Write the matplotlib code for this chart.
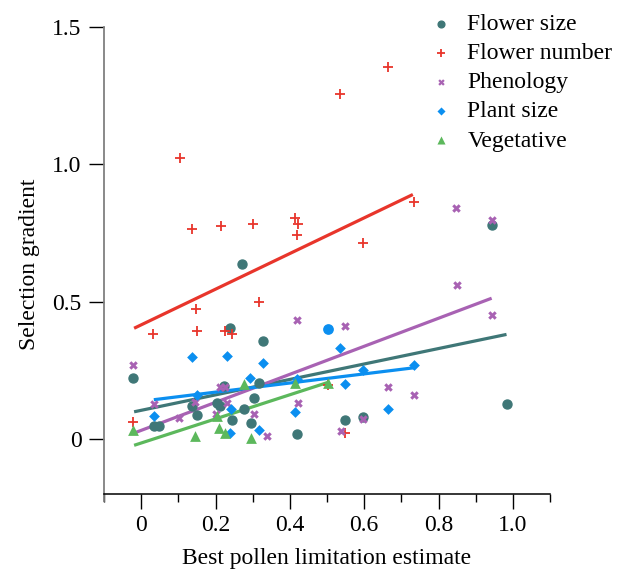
import numpy as np
import matplotlib
matplotlib.use("Agg")
import matplotlib.pyplot as plt
from matplotlib.ticker import MultipleLocator

plt.rcParams['font.family'] = ['Liberation Serif', 'DejaVu Serif']

# --- data ---
size_x = [-0.023, 0.034, 0.049, 0.138, 0.150, 0.203, 0.211, 0.224, 0.239, 0.244, 0.270,
          0.276, 0.296, 0.303, 0.317, 0.327, 0.420, 0.549, 0.598, 0.943, 0.983]
size_y = [0.223, 0.049, 0.049, 0.120, 0.089, 0.130, 0.120, 0.193, 0.403, 0.069, 0.636,
          0.108, 0.060, 0.151, 0.203, 0.358, 0.018, 0.069, 0.081, 0.781, 0.128]

number_x = [-0.021, 0.032, 0.104, 0.138, 0.147, 0.150, 0.214, 0.225, 0.244, 0.302,
            0.318, 0.414, 0.418, 0.422, 0.502, 0.536, 0.549, 0.598, 0.663, 0.735]
number_y = [0.061, 0.382, 1.024, 0.764, 0.473, 0.392, 0.777, 0.392, 0.382, 0.782,
            0.501, 0.804, 0.742, 0.782, 0.197, 1.255, 0.022, 0.713, 1.355, 0.864]

pheno_x = [-0.021, 0.034, 0.103, 0.146, 0.202, 0.213, 0.226, 0.232, 0.303, 0.338, 0.418,
           0.422, 0.537, 0.549, 0.598, 0.663, 0.733, 0.848, 0.849, 0.943, 0.944]
pheno_y = [0.271, 0.129, 0.078, 0.135, 0.090, 0.191, 0.191, 0.130, 0.090, 0.012, 0.432,
           0.130, 0.031, 0.411, 0.072, 0.191, 0.161, 0.842, 0.562, 0.796, 0.451]

plant_x = [0.034, 0.138, 0.151, 0.230, 0.239, 0.243, 0.294, 0.317, 0.328, 0.415, 0.418,
           0.536, 0.549, 0.598, 0.663, 0.734]
plant_y = [0.083, 0.300, 0.161, 0.303, 0.022, 0.111, 0.224, 0.033, 0.276, 0.100, 0.220,
           0.331, 0.200, 0.251, 0.109, 0.270]
plant_circle_x = [0.503]
plant_circle_y = [0.401]

veg_x = [-0.021, 0.146, 0.203, 0.210, 0.226, 0.278, 0.295, 0.414, 0.503]
veg_y = [0.033, 0.012, 0.084, 0.041, 0.023, 0.200, 0.005, 0.203, 0.203]

# fitted lines: (x start, x end, intercept, slope)
fit_size = (-0.019, 0.983, 0.105, 0.281)
fit_number = (-0.019, 0.731, 0.416, 0.649)
fit_pheno = (-0.019, 0.943, 0.032, 0.510)
fit_plant = (0.034, 0.734, 0.138, 0.166)
fit_veg = (-0.019, 0.503, -0.014, 0.439)

c_size = '#3f7777'
c_number = '#e8352b'
c_pheno = '#a862b3'
c_plant = '#0b8ff0'
c_veg = '#5cb85c'

fig = plt.figure(figsize=(6.22, 5.72), dpi=100)
ax = fig.add_axes([104 / 622, 1 - 501 / 572, 446 / 622, 474 / 572])

ax.scatter(size_x, size_y, s=42, marker='o', color=c_size, label='Flower size', zorder=3)
ax.scatter(number_x, number_y, s=55, marker='+', color=c_number, linewidths=1.3,
           label='Flower number', zorder=3)
ax.scatter(pheno_x, pheno_y, s=38, marker='X', color=c_pheno, linewidths=0,
           label='Phenology', zorder=3)
ax.scatter(plant_x, plant_y, s=30, marker='D', color=c_plant, linewidths=0,
           label='Plant size', zorder=3)
ax.scatter(plant_circle_x, plant_circle_y, s=45, marker='o', color=c_plant, zorder=3)
ax.scatter(veg_x, veg_y, s=60, marker='^', color=c_veg, linewidths=0,
           label='Vegetative', zorder=3)

for fit, col in [(fit_size, c_size), (fit_number, c_number), (fit_pheno, c_pheno),
                 (fit_plant, c_plant), (fit_veg, c_veg)]:
    x0, x1, b, m = fit
    xs = np.array([x0, x1])
    ax.plot(xs, b + m * xs, color=col, lw=2.3, solid_capstyle='butt', zorder=2)

ax.set_xlim(-0.1, 1.1)
ax.set_ylim(-0.225, 1.5)
ax.spines['top'].set_visible(False)
ax.spines['right'].set_visible(False)
ax.spines['bottom'].set_position(('data', -0.2))
ax.spines['left'].set_color('#808080')
ax.spines['left'].set_linewidth(1.3)
ax.spines['bottom'].set_linewidth(1.1)

ax.set_xticks([0, 0.2, 0.4, 0.6, 0.8, 1.0])
ax.set_xticklabels(['0', '0.2', '0.4', '0.6', '0.8', '1.0'])
ax.xaxis.set_minor_locator(MultipleLocator(0.1))
ax.set_xticks([-0.1, 0.1, 0.3, 0.5, 0.7, 0.9, 1.1], minor=True)
ax.set_yticks([0, 0.5, 1.0, 1.5])
ax.set_yticklabels(['0', '0.5', '1.0', '1.5'])
ax.tick_params(axis='x', which='major', length=11, width=1, pad=4, labelsize=17)
ax.tick_params(axis='x', which='minor', length=6, width=1)
ax.tick_params(axis='y', which='major', length=11, width=1, pad=5, labelsize=17)

ax.set_xlabel('Best pollen limitation estimate', fontsize=17, labelpad=9)
ax.set_ylabel('Selection gradient', fontsize=17, labelpad=9)

leg = ax.legend(loc='upper left', bbox_to_anchor=(0.709, 1.048), frameon=False,
                fontsize=17, markerscale=0.75, handletextpad=0.6, labelspacing=0.32,
                handlelength=1.0, borderaxespad=0)

fig.savefig('out.png', dpi=100)
